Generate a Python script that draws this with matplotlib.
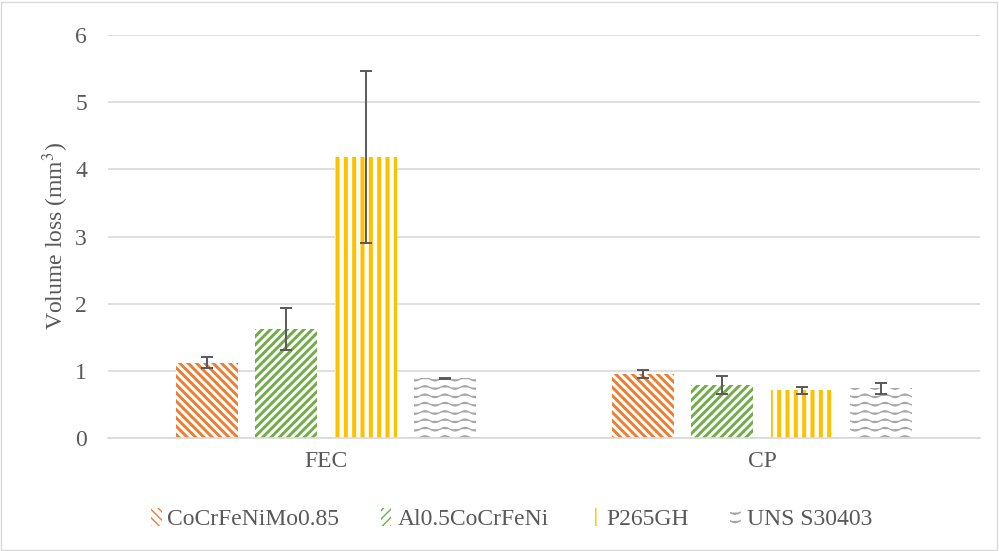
import warnings
import numpy as np
import matplotlib
matplotlib.use('Agg')
import matplotlib.pyplot as plt
import matplotlib.hatch as mhatch
from matplotlib.path import Path
from matplotlib.patches import Rectangle

warnings.filterwarnings("ignore")

categories = ["FEC", "CP"]
materials = ["CoCrFeNiMo0.85", "Al0.5CoCrFeNi", "P265GH", "UNS S30403"]
means = {
    "CoCrFeNiMo0.85": [1.12, 0.95],
    "Al0.5CoCrFeNi": [1.62, 0.79],
    "P265GH": [4.18, 0.71],
    "UNS S30403": [0.89, 0.74],
}
errors = {
    "CoCrFeNiMo0.85": [0.08, 0.06],
    "Al0.5CoCrFeNi": [0.31, 0.13],
    "P265GH": [1.28, 0.05],
    "UNS S30403": [0.01, 0.08],
}
colors = ["#ed7d31", "#70ad47", "#ffc000", "#a6a6a6"]
hatches = ["\\\\\\\\", "////", "||", "~~"]
hatch_lw = [2.1, 2.1, 2.9, 0.9]


# wavy hatch, like Excel's "wave" pattern fill
class WaveHatch(mhatch.HatchPatternBase):
    def __init__(self, hatch, density):
        self.num_lines = int(hatch.count('~') * density)
        self.steps = 40
        self.num_vertices = self.num_lines * (self.steps + 1)

    def set_vertices_and_codes(self, vertices, codes):
        x = np.linspace(0, 1, self.steps + 1)
        k = self.steps + 1
        for i in range(self.num_lines):
            y = (i + 0.5) / self.num_lines + 0.018 * np.sin(2 * np.pi * 5 * x)
            vertices[i * k:(i + 1) * k, 0] = x
            vertices[i * k:(i + 1) * k, 1] = y
            codes[i * k] = Path.MOVETO
            codes[i * k + 1:(i + 1) * k] = Path.LINETO


mhatch._hatch_types.append(WaveHatch)

plt.rcParams['font.family'] = ['Liberation Serif', 'DejaVu Serif']
plt.rcParams['mathtext.fontset'] = 'stix'

fig = plt.figure(figsize=(9.99, 5.51), dpi=100)
ax = fig.add_axes([0.108, 0.205, 0.873, 0.7315])
fig.patches.append(Rectangle((0.001, 0.002), 0.997, 0.995, transform=fig.transFigure,
                             fill=False, edgecolor='#d9d9d9', lw=1))

x = np.arange(len(categories))
width = 0.142
step = 0.1823
for i, m in enumerate(materials):
    pos = x + (i - 1.5) * step
    bars = ax.bar(pos, means[m], width, color='white', edgecolor=colors[i],
                  hatch=hatches[i], linewidth=0, label=m, zorder=2)
    for b in bars:
        if hasattr(b, 'set_hatch_linewidth'):
            b.set_hatch_linewidth(hatch_lw[i])
    ax.errorbar(pos, means[m], yerr=errors[m], fmt='none', ecolor='#595959',
                elinewidth=1.4, capsize=4.5, capthick=1.4, zorder=3)

ax.set_xlim(-0.5, 1.5)
ax.set_ylim(0, 6)
ax.set_yticks(range(0, 7))
ax.set_xticks(x)
ax.set_xticklabels(categories)
ax.yaxis.grid(True, color='#d9d9d9', lw=1.2, zorder=0)
ax.set_axisbelow(True)
for s in ['top', 'right', 'left']:
    ax.spines[s].set_visible(False)
ax.spines['bottom'].set_color('#d9d9d9')
ax.spines['bottom'].set_linewidth(1.2)
ax.tick_params(axis='both', length=0, labelsize=17, colors='#595959', pad=9)
ax.tick_params(axis='y', pad=15)
ax.set_ylabel("Volume loss (mm$^{3}$)", fontsize=17, color='#595959', labelpad=3)

leg = fig.legend(loc='center', bbox_to_anchor=(0.512, 1 - 519 / 551), ncol=4,
                 frameon=False, fontsize=17, handlelength=0.45, handleheight=0.8,
                 handletextpad=0.25, columnspacing=1.75, labelcolor='#595959')

fig.savefig("out.png", dpi=100)
